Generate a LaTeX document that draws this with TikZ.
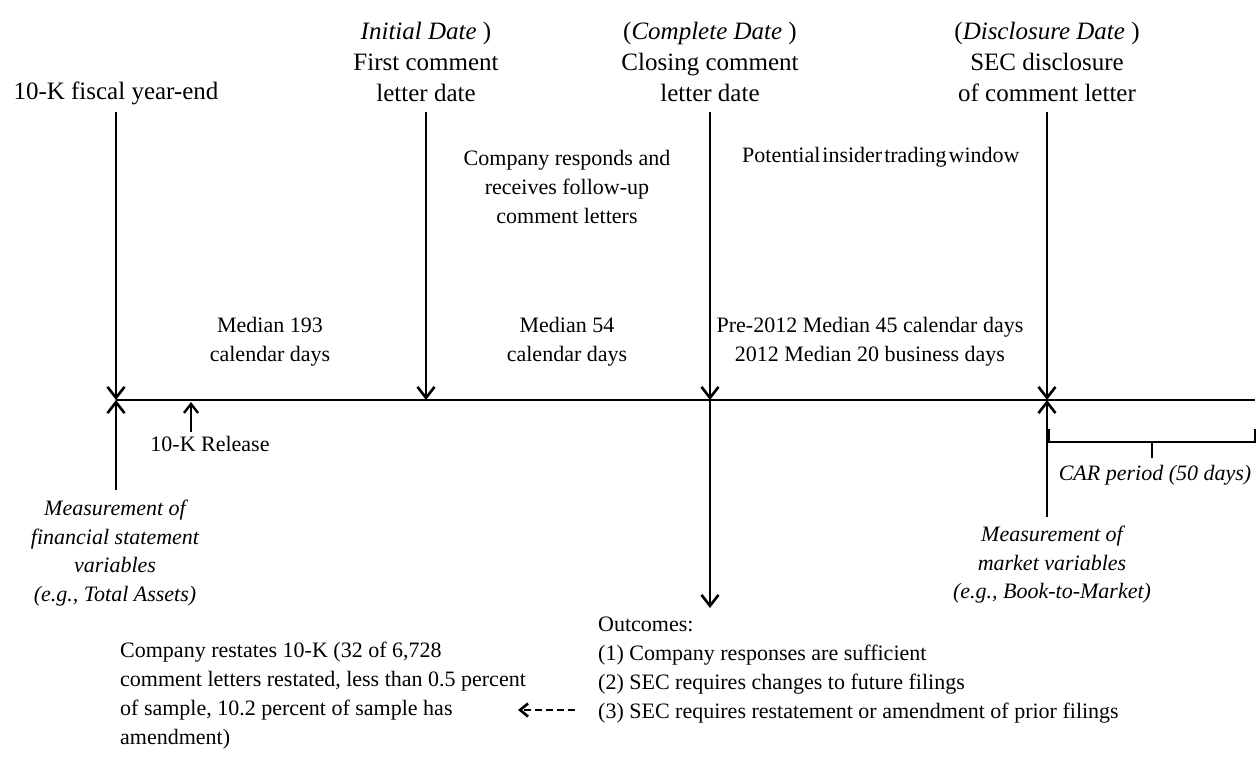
\documentclass[tikz,border=0pt]{standalone}
\usepackage{fontspec}
\setmainfont{Liberation Serif}
\usetikzlibrary{arrows.meta}

\begin{document}
\begin{tikzpicture}[x=1pt,y=-1pt,
    tick/.style={line width=2.6pt,-{Straight Barb[length=11pt,width=17pt]}},
    big/.style={font=\fontsize{25}{31}\selectfont,align=center,inner sep=0pt},
    small/.style={font=\fontsize{22}{29}\selectfont,align=center,inner sep=0pt},
    measure/.style={font=\itshape\fontsize{22}{28.5}\selectfont,align=center,inner sep=0pt}]
    \useasboundingbox (0,0) rectangle (1259,759);

    % time line
    \coordinate (fye) at (116,400);
    \coordinate (fyetop) at (116,112);
    \coordinate (fyebot) at (116,490);
    \coordinate (init) at (426,400);
    \coordinate (inittop) at (426,112);
    \coordinate (compl) at (710,400);
    \coordinate (compltop) at (710,112);
    \coordinate (complbot) at (710,608);
    \coordinate (discl) at (1047,400);
    \coordinate (discltop) at (1047,112);
    \coordinate (disclbot) at (1047,517);
    \coordinate (lineend) at (1255,400);
    \coordinate (rel) at (191,402);
    \coordinate (relbot) at (191,432);

    \draw[line width=1.8pt] (fye) -- (lineend);
    \draw[tick] (fyetop) -- (fye);
    \draw[tick] (fyebot) -- (fye);
    \draw[tick] (inittop) -- (init);
    \draw[tick] (compltop) -- (compl);
    \draw[tick] (compl) -- (complbot);
    \draw[tick] (discltop) -- (discl);
    \draw[tick] (disclbot) -- (discl);
    \draw[line width=2.4pt,-{Straight Barb[length=9pt,width=14pt]}] (relbot) -- (rel);

    % labels above
    \node[big] (fyelab) at (116,93) {10-K fiscal year-end};
    \node[big] (initlab) at (426,62) {\textit{Initial Date} )\\First comment\\letter date};
    \node[big] (compllab) at (710,62) {(\textit{Complete Date} )\\Closing comment\\letter date};
    \node[big] (discllab) at (1047,62) {(\textit{Disclosure Date} )\\SEC disclosure\\of comment letter};

    \node[small] (responds) at (567,187) {Company responds and\\receives follow-up\\comment letters};
    \node[small,anchor=west] (window) at (742,157) {\spaceskip=2pt Potential insider trading window};
    \node[small] (med193) at (270,342) {Median 193\\calendar days};
    \node[small] (med54) at (567,342) {Median 54\\calendar days};
    \node[small] (med45) at (870,342) {Pre-2012 Median 45 calendar days\\2012 Median 20 business days};

    % labels below
    \node[small] (release) at (210,444) {10-K Release};
    \node[measure] (finvar) at (115,553) {Measurement of\\financial statement\\variables\\(e.g., Total Assets)};
    \node[measure] (mktvar) at (1052,565) {Measurement of\\market variables\\(e.g., Book-to-Market)};

    \draw[line width=2.4pt] (1049,429) -- (1049,442) -- (1255,442) -- (1255,429);
    \draw[line width=2.4pt] (1152,442) -- (1152,458);
    \node[measure] (car) at (1155,475) {CAR period (50 days)};

    \node[small,align=left,anchor=west] (outcomes) at (598,670) {Outcomes:\\(1) Company responses are sufficient\\(2) SEC requires changes to future filings\\(3) SEC requires restatement or amendment of prior filings};
    \node[small,align=left,anchor=west] (restate) at (120,696) {Company restates 10-K (32 of 6,728\\comment letters restated, less than 0.5 percent\\of sample, 10.2 percent of sample has\\amendment)};

    \coordinate (dashstart) at (575,710);
    \coordinate (dashend) at (518,710);
    \draw[line width=2.6pt,dash pattern=on 7pt off 4pt,-{Straight Barb[length=8pt,width=13pt]}] (dashstart) -- (dashend);
\end{tikzpicture}
\end{document}
